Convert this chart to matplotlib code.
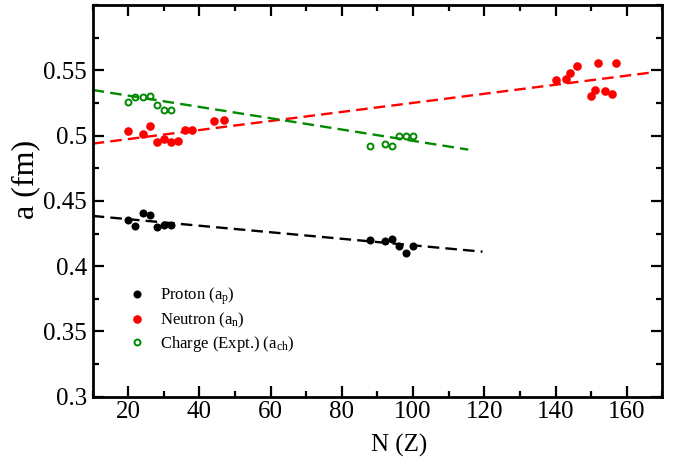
import matplotlib as mpl
mpl.use('Agg')
import numpy as np
import matplotlib.pyplot as plt
from matplotlib.ticker import MultipleLocator

plt.rcParams['font.family'] = 'Liberation Serif'
plt.rcParams['mathtext.fontset'] = 'custom'
plt.rcParams['mathtext.rm'] = 'Liberation Serif'
plt.rcParams['mathtext.it'] = 'Liberation Serif:italic'

# diffuseness a (fm) vs N (or Z)
prot_n = [20, 22, 24, 26, 28, 30, 32, 88, 92, 94, 96, 98, 100]
prot_a = [0.4355, 0.4307, 0.4406, 0.4393, 0.4302, 0.4317, 0.4315,
          0.4201, 0.4193, 0.4209, 0.4158, 0.4100, 0.4158]

neut_n = [20, 24, 26, 28, 30, 32, 34, 36, 38, 44, 47,
          140, 143, 144, 146, 150, 151, 152, 154, 156, 157]
neut_a = [0.5033, 0.5015, 0.5076, 0.4952, 0.4975, 0.4952, 0.4962, 0.5040, 0.5040, 0.5109, 0.5119,
          0.5430, 0.5435, 0.5480, 0.5530, 0.5300, 0.5350, 0.5555, 0.5345, 0.5320, 0.5555]

ch_n = [20, 22, 24, 26, 28, 30, 32, 88, 92, 94, 96, 98, 100]
ch_a = [0.5261, 0.5295, 0.5295, 0.5302, 0.5234, 0.5193, 0.5198,
        0.4924, 0.4937, 0.4924, 0.4995, 0.4995, 0.4995]

# linear trends (end points)
prot_fit_n = [10, 119.5]
prot_fit_a = [0.4385, 0.4111]
neut_fit_n = [10, 166.5]
neut_fit_a = [0.4939, 0.5482]
ch_fit_n = [10, 115.5]
ch_fit_a = [0.5350, 0.4893]

green = '#008a00'
dash = (4.9, 2.6)

fig = plt.figure(figsize=(6.83, 4.66), dpi=100)
ax = fig.add_axes([0.1357, 0.1487, 0.834, 0.8403])

ax.plot(prot_fit_n, prot_fit_a, color='black', lw=1.7, dashes=dash)
ax.plot(neut_fit_n, neut_fit_a, color='red', lw=1.7, dashes=dash)
ax.plot(ch_fit_n, ch_fit_a, color=green, lw=1.7, dashes=dash)

ax.plot(prot_n, prot_a, 'o', color='black', ms=5.8, mew=0, label=r'Proton (a$_\mathrm{p}$)')
ax.plot(neut_n, neut_a, 'o', color='red', ms=6.2, mew=0, label=r'Neutron (a$_\mathrm{n}$)')
ax.plot(ch_n, ch_a, 'o', mfc='none', mec=green, ms=4.3, mew=1.4,
        label=r'Charge (Expt.) (a$_\mathrm{ch}$)')

ax.set_xlim(10, 170)
ax.set_ylim(0.3, 0.6)
ax.xaxis.set_major_locator(MultipleLocator(20))
ax.xaxis.set_minor_locator(MultipleLocator(10))
yt = [0.3, 0.35, 0.4, 0.45, 0.5, 0.55]
ax.set_yticks(yt)
ax.set_yticklabels(['%g' % v for v in yt])
ax.yaxis.set_minor_locator(MultipleLocator(0.025))

ax.tick_params(which='both', direction='in', top=True, right=True, width=1.6, labelsize=18)
ax.tick_params(which='major', length=8)
ax.tick_params(which='minor', length=4)
ax.tick_params(axis='x', pad=3)
ax.tick_params(axis='y', pad=4)
for s in ax.spines.values():
    s.set_linewidth(2)

ax.set_xlabel('N (Z)', fontsize=18)
ax.xaxis.set_label_coords(0.538, -0.095)
ax.set_ylabel('a (fm)', fontsize=23)
ax.yaxis.set_label_coords(-0.092, 0.556)

ax.legend(loc='upper left', bbox_to_anchor=(0.037, 0.323), frameon=False, fontsize=12,
          handlelength=1.0, handletextpad=0.9, labelspacing=0.24, numpoints=1)

fig.savefig('out.png', dpi=100)
plt.close()
